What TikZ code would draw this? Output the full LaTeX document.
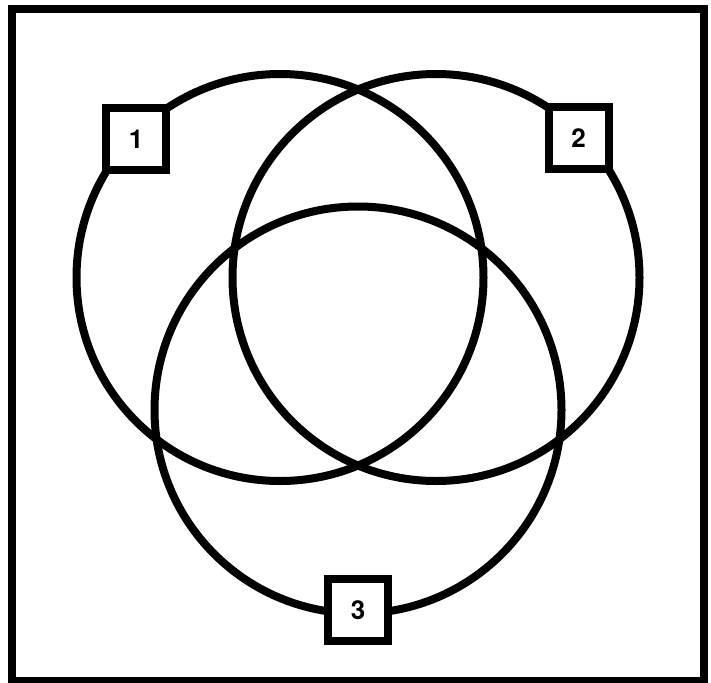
\documentclass[tikz,border=0pt]{standalone}
\usepackage{fontspec}
\setmainfont{TeX Gyre Heros}
\begin{document}
\begin{tikzpicture}[x=1pt,y=-1pt,
  ring/.style={draw=black,line width=8pt},
  tag/.style={draw=black,fill=white,line width=8pt,minimum width=60pt,minimum height=62pt,inner sep=0pt,font=\fontsize{26}{26}\selectfont\bfseries},
  frame/.style={draw=black,line width=8pt}]
\useasboundingbox (0,0) rectangle (711,682);
\draw[frame] (12,9) rectangle (704,681);
\node[ring,circle,minimum size=203.5pt*2,inner sep=0pt] (c1) at (280,277.5) {};
\node[ring,circle,minimum size=203.5pt*2,inner sep=0pt] (c2) at (436,277.5) {};
\node[ring,circle,minimum size=203.5pt*2,inner sep=0pt] (c3) at (358,410) {};
\node[tag] (t1) at (136,139) {1};
\node[tag] (t2) at (578.5,138) {2};
\node[tag] (t3) at (358,610) {3};
\end{tikzpicture}
\end{document}
